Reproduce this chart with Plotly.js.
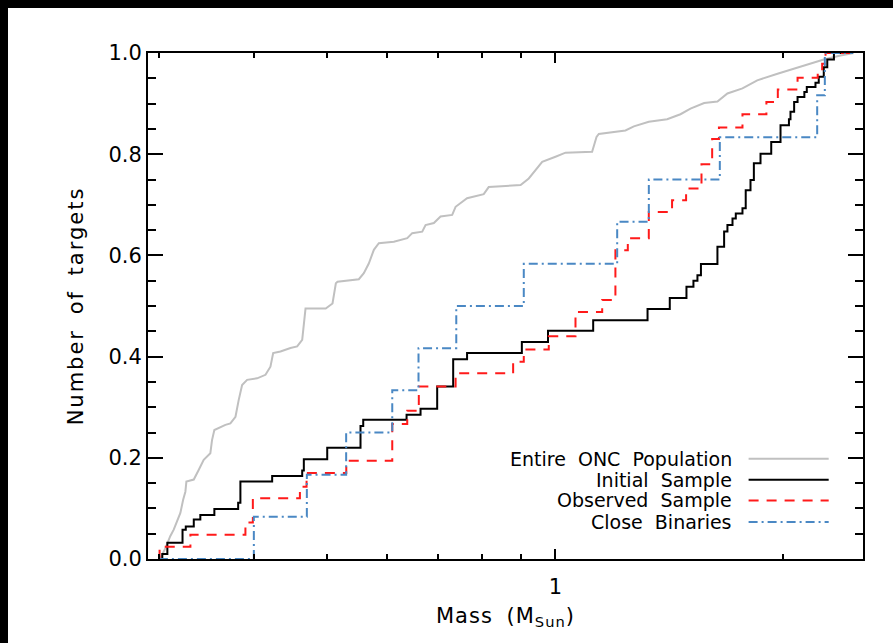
<!DOCTYPE html>
<html>
<head>
<meta charset="utf-8">
<script src="https://cdn.plot.ly/plotly-3.0.1.min.js"></script>
<style>
  html, body { margin: 0; padding: 0; background: #000; width: 893px; height: 643px; overflow: hidden; }
  #chart { position: absolute; left: 8px; top: 8px; width: 885px; height: 635px; background: #fff; }
  #chart .ytitle { letter-spacing: 2px; word-spacing: 6px; }
  #chart .xtitle { letter-spacing: 1px; word-spacing: 6px; }
</style>
</head>
<body>
<div id="chart"></div>
<script>
// Entire ONC population (cumulative fraction vs mass)
const oncMass = [0.300,0.301,0.3056,0.310,0.3133,0.3171,0.3197,0.3224,0.3246,0.3256,0.3330,0.338,0.3432,0.3502,0.352,0.3545,0.361,0.3666,0.3722,0.378,0.3817,0.3857,0.3916,0.4037,0.4141,0.4204,0.4239,0.4334,0.4468,0.456,0.463,0.4653,0.4677,0.4973,0.5077,0.5129,0.5155,0.55,0.5584,0.5669,0.5757,0.5845,0.6118,0.6372,0.6469,0.6669,0.6737,0.6909,0.7051,0.7305,0.7381,0.7643,0.804,0.8163,0.8994,0.922,0.9411,0.9604,1.0,1.031,1.1178,1.1329,1.1408,1.237,1.2691,1.328,1.4041,1.4622,1.5073,1.5714,1.6361,1.6866,1.7655,1.8465,1.964,2.0658,2.1468,2.2605,2.3785,2.4764];
const oncFrac = [0,0.002,0.022,0.045,0.058,0.078,0.091,0.117,0.133,0.153,0.157,0.176,0.196,0.209,0.235,0.255,0.261,0.265,0.268,0.281,0.314,0.344,0.354,0.357,0.364,0.380,0.407,0.410,0.417,0.420,0.433,0.469,0.495,0.495,0.505,0.545,0.548,0.553,0.565,0.584,0.611,0.624,0.627,0.634,0.644,0.647,0.660,0.664,0.677,0.680,0.696,0.713,0.721,0.735,0.739,0.752,0.768,0.785,0.795,0.803,0.805,0.834,0.840,0.847,0.855,0.864,0.869,0.879,0.890,0.901,0.904,0.920,0.930,0.946,0.959,0.969,0.976,0.987,0.995,1.0];

// Initial sample
const initMass = [0.3001,0.3026,0.3073,0.3218,0.3250,0.3330,0.3397,0.3545,0.3811,0.3837,0.4226,0.4630,0.4653,0.4996,0.5528,0.5574,0.6359,0.6635,0.6979,0.7327,0.7643,0.9028,0.9775,1.1214,1.3229,1.4154,1.4891,1.5210,1.5396,1.5561,1.6361,1.6697,1.6866,1.7128,1.7300,1.7655,1.7830,1.8091,1.8277,1.8650,1.9268,1.9820,2.0334,2.0430,2.0658,2.0874,2.1310,2.1468,2.2042,2.2262,2.2605,2.2847,2.3314,2.47];
const initFrac = [0,0.010,0.032,0.058,0.064,0.078,0.087,0.099,0.111,0.153,0.164,0.175,0.197,0.220,0.263,0.275,0.285,0.297,0.341,0.395,0.407,0.429,0.451,0.472,0.494,0.516,0.538,0.550,0.561,0.583,0.617,0.647,0.660,0.673,0.683,0.693,0.729,0.749,0.782,0.801,0.824,0.857,0.869,0.884,0.903,0.913,0.923,0.933,0.941,0.953,0.972,0.987,1.0,1.0];

// Observed sample
const obsMass = [0.2995,0.3001,0.3296,0.3896,0.3985,0.4598,0.4692,0.5294,0.6088,0.6372,0.6600,0.7381,0.8792,0.9081,0.9798,1.0627,1.1525,1.1998,1.2459,1.3280,1.4253,1.4874,1.5587,1.6101,1.6436,1.7655,1.8987,1.9658,2.0874,2.2193,2.2495,2.2726,2.47];
const obsFrac = [0,0.024,0.048,0.072,0.120,0.143,0.170,0.194,0.267,0.293,0.341,0.367,0.390,0.414,0.440,0.488,0.512,0.610,0.634,0.686,0.709,0.732,0.780,0.830,0.853,0.879,0.903,0.928,0.951,0.962,0.979,1.0,1.0];

// Close binaries
const binMass = [0.2995,0.3997,0.4696,0.5292,0.6088,0.6594,0.7396,0.9081,1.2063,1.3281,1.6480,2.2157,2.2678,2.47];
const binFrac = [0,0.0833,0.1667,0.25,0.3333,0.4167,0.5,0.5833,0.6667,0.75,0.8333,0.9167,1.0,1.0];

const seriesNames = ['Entire ONC Population','Initial Sample','Observed Sample','Close Binaries'];
const seriesColors = ['#c0c0c0','#000000','#ff1a1a','#4a88c4'];
const seriesDash = ['solid','solid','10px,8px','9px,4px,2px,4px'];

const xMinorTicks = [0.3,0.4,0.5,0.6,0.7,0.8,0.9,2];

const FONT = 'DejaVu Sans, sans-serif';

const traces = [
  {x: oncMass, y: oncFrac, mode: 'lines', line: {color: seriesColors[0], width: 2, shape: 'linear', dash: seriesDash[0]}, name: seriesNames[0]},
  {x: initMass, y: initFrac, mode: 'lines', line: {color: seriesColors[1], width: 2, shape: 'hv', dash: seriesDash[1]}, name: seriesNames[1]},
  {x: obsMass, y: obsFrac, mode: 'lines', line: {color: seriesColors[2], width: 2, shape: 'hv', dash: seriesDash[2]}, name: seriesNames[2]},
  {x: binMass, y: binFrac, mode: 'lines', line: {color: seriesColors[3], width: 2, shape: 'hv', dash: seriesDash[3]}, name: seriesNames[3]}
];

// legend (text on left, line sample on right); slightly wide word gaps as in the original font
const legY = [0.198, 0.1565, 0.1157, 0.073];
const annotations = seriesNames.map((n, i) => ({
  xref: 'paper', yref: 'paper', x: 0.819, y: legY[i], xanchor: 'right', yanchor: 'middle',
  text: n.split(' ').join(' \u00a0'), showarrow: false, font: {family: FONT, size: 19, color: '#000'}
}));
const shapes = seriesNames.map((n, i) => ({
  type: 'line', xref: 'paper', yref: 'paper', x0: 0.840, x1: 0.952, y0: legY[i], y1: legY[i],
  line: {color: seriesColors[i], width: 2, dash: seriesDash[i]}
}));

const layout = {
  width: 885, height: 635,
  margin: {l: 140, r: 30, t: 45, b: 84},
  paper_bgcolor: '#fff', plot_bgcolor: '#fff',
  showlegend: false,
  font: {family: FONT, color: '#000'},
  xaxis: {
    type: 'log', range: [-0.538, 0.406],
    showgrid: false, zeroline: false,
    showline: true, linecolor: '#000', linewidth: 2, mirror: 'allticks',
    ticks: 'inside', ticklen: 10, tickwidth: 2, tickcolor: '#000',
    tickmode: 'array', tickvals: [1], ticktext: ['1'],
    tickfont: {family: FONT, size: 21, color: '#000'},
    ticklabelstandoff: 8,
    minor: {tickmode: 'array', tickvals: xMinorTicks, ticks: 'inside', ticklen: 5, tickwidth: 2, tickcolor: '#000', showgrid: false},
    title: {text: 'Mass (M<sub>Sun</sub>)', font: {family: FONT, size: 21, color: '#000'}, standoff: 10}
  },
  yaxis: {
    range: [0, 1],
    showgrid: false, zeroline: false,
    showline: true, linecolor: '#000', linewidth: 2, mirror: 'allticks',
    ticks: 'inside', ticklen: 15, tickwidth: 2, tickcolor: '#000',
    tickmode: 'linear', tick0: 0, dtick: 0.2, tickformat: '.1f',
    tickfont: {family: FONT, size: 21, color: '#000'},
    minor: {dtick: 0.05, ticks: 'inside', ticklen: 8, tickwidth: 2, tickcolor: '#000', showgrid: false},
    title: {text: 'Number of targets', font: {family: FONT, size: 21, color: '#000'}, standoff: 19}
  },
  annotations: annotations,
  shapes: shapes
};

Plotly.newPlot('chart', traces, layout, {displayModeBar: false, staticPlot: true});
</script>
</body>
</html>
